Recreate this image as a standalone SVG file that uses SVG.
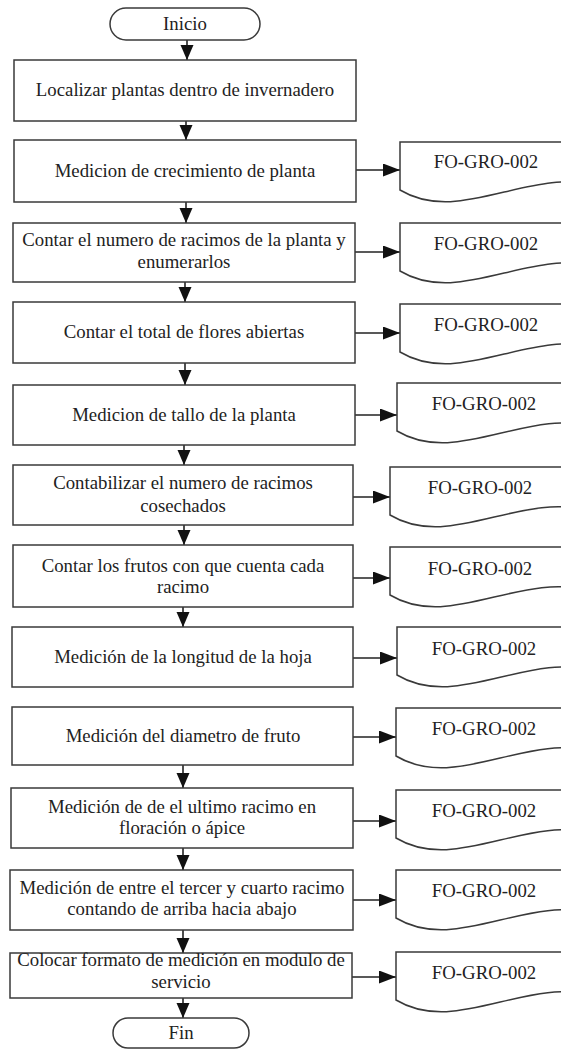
<svg xmlns="http://www.w3.org/2000/svg" xmlns:xlink="http://www.w3.org/1999/xlink" width="561" height="1049" viewBox="0 0 561 1049">
<style>
.bg{fill:#ffffff}
.box{fill:#ffffff;stroke:#3a3a3a;stroke-width:1.5}
.term{fill:#ffffff;stroke:#3a3a3a;stroke-width:1.5}
.doc{fill:#ffffff;stroke:#3a3a3a;stroke-width:1.5}
text{font-family:Liberation Serif, Tinos, Times New Roman, Times, Noto Serif, DejaVu Serif, serif;font-size:18.8px;fill:#222;text-anchor:middle}
.ln{stroke:#222;stroke-width:1.6;fill:none}
.v{marker-end:url(#ah)}
.h{marker-end:url(#ahh)}
</style>
<defs>
<marker id="ah" markerUnits="userSpaceOnUse" markerWidth="16" markerHeight="14" refX="15" refY="6.5" orient="auto"><path d="M0,0 L15,6.5 L0,13 Z" fill="#111"/></marker>
<marker id="ahh" markerUnits="userSpaceOnUse" markerWidth="18" markerHeight="14" refX="17" refY="6.5" orient="auto"><path d="M0,0 L17,6.5 L0,13 Z" fill="#111"/></marker>
<path id="docshape" d="M0,0 H200 V44 C130,24 60,84 0,48 Z"/>
</defs>
<rect class="bg" x="0" y="0" width="561" height="1049"/>

<g id="connectors">
<line class="ln v" x1="187" y1="40" x2="187" y2="60"/>
<line class="ln v" x1="186" y1="121" x2="186" y2="140"/>
<line class="ln v" x1="186" y1="202" x2="186" y2="223"/>
<line class="ln v" x1="185" y1="282" x2="185" y2="302"/>
<line class="ln v" x1="185" y1="363" x2="185" y2="385"/>
<line class="ln v" x1="184" y1="445" x2="184" y2="465"/>
<line class="ln v" x1="184" y1="525" x2="184" y2="545"/>
<line class="ln v" x1="183" y1="607" x2="183" y2="627"/>
<line class="ln v" x1="183" y1="765" x2="183" y2="788"/>
<line class="ln v" x1="183" y1="848" x2="183" y2="870"/>
<line class="ln v" x1="183" y1="930" x2="183" y2="953"/>
<line class="ln v" x1="183" y1="998" x2="183" y2="1018"/>
<line class="ln h" x1="356" y1="170" x2="400" y2="170"/>
<line class="ln h" x1="355" y1="252" x2="400" y2="252"/>
<line class="ln h" x1="355" y1="333" x2="400" y2="333"/>
<line class="ln h" x1="355" y1="415" x2="397" y2="415"/>
<line class="ln h" x1="353" y1="497" x2="390" y2="497"/>
<line class="ln h" x1="353" y1="578" x2="390" y2="578"/>
<line class="ln h" x1="353" y1="658" x2="397" y2="658"/>
<line class="ln h" x1="353" y1="737" x2="396" y2="737"/>
<line class="ln h" x1="353" y1="821" x2="396" y2="821"/>
<line class="ln h" x1="353" y1="900" x2="396" y2="900"/>
<line class="ln h" x1="352" y1="977" x2="396" y2="977"/>
</g>

<g id="inicio">
<rect class="term" x="110" y="8" width="150" height="32" rx="16" ry="16"/>
<text x="185" y="30">Inicio</text>
</g>

<g id="n1">
<rect class="box" x="14" y="60" width="342" height="61"/>
<text x="185" y="96">Localizar plantas dentro de invernadero</text>
</g>
<g id="n2">
<rect class="box" x="14" y="140" width="342" height="62"/>
<text x="185" y="177">Medicion de crecimiento de planta</text>
</g>
<g id="n3">
<rect class="box" x="13" y="223" width="342" height="59"/>
<text x="184" y="246">Contar el numero de racimos de la planta y</text>
<text x="184" y="268">enumerarlos</text>
</g>
<g id="n4">
<rect class="box" x="13" y="302" width="342" height="61"/>
<text x="184" y="338">Contar el total de flores abiertas</text>
</g>
<g id="n5">
<rect class="box" x="13" y="385" width="342" height="60"/>
<text x="184" y="421">Medicion de tallo de la planta</text>
</g>
<g id="n6">
<rect class="box" x="13" y="465" width="340" height="60"/>
<text x="183" y="489">Contabilizar el numero de racimos</text>
<text x="183" y="512">cosechados</text>
</g>
<g id="n7">
<rect class="box" x="13" y="545" width="340" height="62"/>
<text x="183" y="572">Contar los frutos con que cuenta cada</text>
<text x="183" y="593">racimo</text>
</g>
<g id="n8">
<rect class="box" x="12" y="627" width="341" height="60"/>
<text x="183" y="663">Medición de la longitud de la hoja</text>
</g>
<g id="n9">
<rect class="box" x="12" y="707" width="341" height="58"/>
<text x="183" y="742">Medición del diametro de fruto</text>
</g>
<g id="n10">
<rect class="box" x="11" y="788" width="342" height="60"/>
<text x="182" y="813">Medición de de el ultimo racimo en</text>
<text x="182" y="834">floración o ápice</text>
</g>
<g id="n11">
<rect class="box" x="10" y="870" width="343" height="60"/>
<text x="182" y="894">Medición de entre el tercer y cuarto racimo</text>
<text x="182" y="915">contando de arriba hacia abajo</text>
</g>
<g id="n12">
<rect class="box" x="10" y="953" width="342" height="45"/>
<text x="181" y="966">Colocar formato de medición en modulo de</text>
<text x="181" y="988">servicio</text>
</g>

<g id="fin">
<rect class="term" x="113" y="1018" width="136" height="30" rx="15" ry="15"/>
<text x="181" y="1039">Fin</text>
</g>

<g id="d2"><use xlink:href="#docshape" class="doc" transform="translate(400,142)"/><text x="486" y="168">FO-GRO-002</text></g>
<g id="d3"><use xlink:href="#docshape" class="doc" transform="translate(400,223)"/><text x="486" y="250">FO-GRO-002</text></g>
<g id="d4"><use xlink:href="#docshape" class="doc" transform="translate(400,304)"/><text x="486" y="331">FO-GRO-002</text></g>
<g id="d5"><use xlink:href="#docshape" class="doc" transform="translate(397,383)"/><text x="484" y="410">FO-GRO-002</text></g>
<g id="d6"><use xlink:href="#docshape" class="doc" transform="translate(390,467)"/><text x="480" y="494">FO-GRO-002</text></g>
<g id="d7"><use xlink:href="#docshape" class="doc" transform="translate(390,547)"/><text x="480" y="575">FO-GRO-002</text></g>
<g id="d8"><use xlink:href="#docshape" class="doc" transform="translate(397,627)"/><text x="484" y="655">FO-GRO-002</text></g>
<g id="d9"><use xlink:href="#docshape" class="doc" transform="translate(396,708)"/><text x="484" y="735">FO-GRO-002</text></g>
<g id="d10"><use xlink:href="#docshape" class="doc" transform="translate(396,790)"/><text x="484" y="817">FO-GRO-002</text></g>
<g id="d11"><use xlink:href="#docshape" class="doc" transform="translate(396,870)"/><text x="484" y="897">FO-GRO-002</text></g>
<g id="d12"><use xlink:href="#docshape" class="doc" transform="translate(396,952)"/><text x="484" y="979">FO-GRO-002</text></g>
</svg>
